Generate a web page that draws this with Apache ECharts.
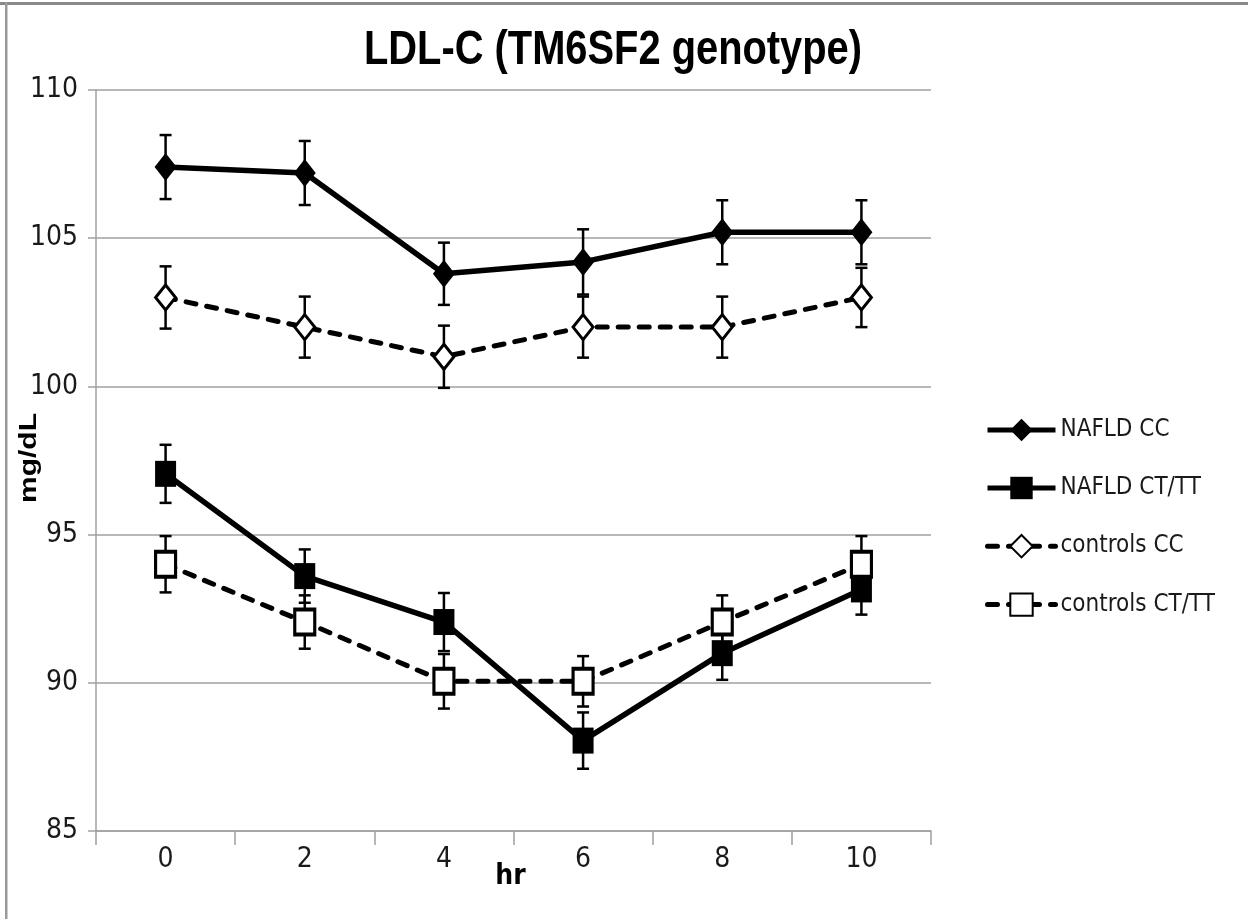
<!DOCTYPE html>
<html>
<head>
<meta charset="utf-8">
<script src="https://cdn.jsdelivr.net/npm/echarts@6/dist/echarts.min.js"></script>
<style>
html,body{margin:0;padding:0;background:#fff;}
#chart{width:1248px;height:919px;}
</style>
</head>
<body>
<div id="chart"></div>
<script>
var categories = ['0', '2', '4', '6', '8', '10'];
var yTicks = [85, 90, 95, 100, 105, 110];
var naflCC = [107.4, 107.2, 103.8, 104.2, 105.2, 105.2];
var naflCCErr = [1.08, 1.08, 1.05, 1.1, 1.08, 1.08];
var naflCT = [97.05, 93.6, 92.05, 88.05, 91.0, 93.15];
var naflCTErr = [0.98, 0.9, 0.98, 0.95, 0.9, 0.85];
var ctrlCC = [103.0, 102.0, 101.0, 102.0, 102.0, 103.0];
var ctrlCCErr = [1.05, 1.03, 1.05, 1.03, 1.03, 1.0];
var ctrlCT = [94.0, 92.05, 90.05, 90.05, 92.05, 94.0];
var ctrlCTErr = [0.95, 0.9, 0.92, 0.85, 0.9, 0.95];

var NARROW = '"Liberation Sans Narrow", "DejaVu Sans Condensed", "Arial Narrow", sans-serif';

function errData(vals, errs) {
  return vals.map(function (v, i) { return [i, v, errs[i]]; });
}
function errSeries(vals, errs) {
  return {
    type: 'custom',
    silent: true,
    z: 1,
    data: errData(vals, errs),
    renderItem: function (params, api) {
      var x = api.value(0), v = api.value(1), e = api.value(2);
      var top = api.coord([x, v + e]);
      var bot = api.coord([x, v - e]);
      var hw = 6;
      var st = { stroke: '#000', lineWidth: 2.5 };
      return {
        type: 'group',
        children: [
          { type: 'line', shape: { x1: top[0], y1: top[1], x2: bot[0], y2: bot[1] }, style: st },
          { type: 'line', shape: { x1: top[0] - hw, y1: top[1], x2: top[0] + hw, y2: top[1] }, style: st },
          { type: 'line', shape: { x1: bot[0] - hw, y1: bot[1], x2: bot[0] + hw, y2: bot[1] }, style: st }
        ]
      };
    }
  };
}

var chart = echarts.init(document.getElementById('chart'));
chart.setOption({
  animation: false,
  backgroundColor: '#fff',
  grid: { left: 96, right: 317, top: 90, bottom: 88, containLabel: false },
  graphic: [
    { type: 'rect', shape: { x: 0, y: 2, width: 1248, height: 3 }, style: { fill: '#8a8a8a' }, z: 10 },
    { type: 'rect', shape: { x: 5, y: 2, width: 2.5, height: 917 }, style: { fill: '#9a9a9a' }, z: 10 },
    {
      type: 'text', x: 613, y: 51, scaleX: 0.83,
      style: {
        text: 'LDL-C (TM6SF2 genotype)', fill: '#000',
        font: 'bold 48px "Liberation Sans", Arial, sans-serif',
        align: 'center', verticalAlign: 'middle', textAlign: 'center', textVerticalAlign: 'middle'
      }
    },
    {
      type: 'text', x: 30, y: 458, rotation: Math.PI / 2, scaleY: 0.78,
      style: {
        text: 'mg/dL', fill: '#000',
        font: 'bold 30px "Liberation Sans", Arial, sans-serif',
        align: 'center', verticalAlign: 'middle', textAlign: 'center', textVerticalAlign: 'middle'
      }
    }
  ],
  legend: {
    orient: 'vertical',
    left: 985,
    top: 418,
    padding: 0,
    itemWidth: 68,
    itemHeight: 28,
    itemGap: 34,
    data: ['NAFLD CC', 'NAFLD CT/TT', 'controls CC', 'controls CT/TT'],
    lineStyle: { width: 5 },
    textStyle: { fontFamily: NARROW, fontSize: 24, color: '#1a1a1a' }
  },
  xAxis: {
    type: 'category',
    data: categories,
    boundaryGap: true,
    name: 'hr',
    nameLocation: 'middle',
    nameGap: 32,
    nameMoveOverlap: false,
    nameTextStyle: { fontFamily: NARROW, fontSize: 28, fontWeight: 'bold', color: '#000', padding: [0, 6, 0, 0] },
    axisLine: { lineStyle: { color: '#a0a0a0', width: 1.5 } },
    axisTick: { show: true, interval: 0, length: 14, alignWithLabel: false, lineStyle: { color: '#a0a0a0', width: 1.5 } },
    axisLabel: { fontFamily: NARROW, fontSize: 28, color: '#1a1a1a', margin: 15, interval: 0 },
    splitLine: { show: false }
  },
  yAxis: {
    type: 'value',
    min: yTicks[0],
    max: yTicks[yTicks.length - 1],
    interval: yTicks[1] - yTicks[0],
    axisLine: { show: true, lineStyle: { color: '#a0a0a0', width: 1.5 } },
    axisTick: { show: true, length: 8, lineStyle: { color: '#a0a0a0', width: 1.5 } },
    axisLabel: { fontFamily: NARROW, fontSize: 28, color: '#1a1a1a', margin: 18 },
    splitLine: { show: true, lineStyle: { color: '#a0a0a0', width: 1.5 } }
  },
  series: [
    errSeries(naflCC, naflCCErr),
    errSeries(naflCT, naflCTErr),
    errSeries(ctrlCC, ctrlCCErr),
    errSeries(ctrlCT, ctrlCTErr),
    {
      name: 'NAFLD CC', type: 'line', z: 3, data: naflCC,
      symbol: 'diamond', symbolSize: [22, 28],
      lineStyle: { color: '#000', width: 5.5 },
      itemStyle: { color: '#000', borderWidth: 0 }
    },
    {
      name: 'NAFLD CT/TT', type: 'line', z: 3, data: naflCT,
      symbol: 'rect', symbolSize: [21, 26],
      lineStyle: { color: '#000', width: 5.5 },
      itemStyle: { color: '#000', borderWidth: 0 }
    },
    {
      name: 'controls CC', type: 'line', z: 3, data: ctrlCC,
      symbol: 'diamond', symbolSize: [20, 25],
      lineStyle: { color: '#000', width: 5, type: [10, 11], cap: 'round' },
      itemStyle: { color: '#fff', borderColor: '#000', borderWidth: 3 }
    },
    {
      name: 'controls CT/TT', type: 'line', z: 3, data: ctrlCT,
      symbol: 'rect', symbolSize: [20, 25],
      lineStyle: { color: '#000', width: 5, type: [10, 11], cap: 'round' },
      itemStyle: { color: '#fff', borderColor: '#000', borderWidth: 3.5 }
    }
  ]
});
</script>
</body>
</html>
